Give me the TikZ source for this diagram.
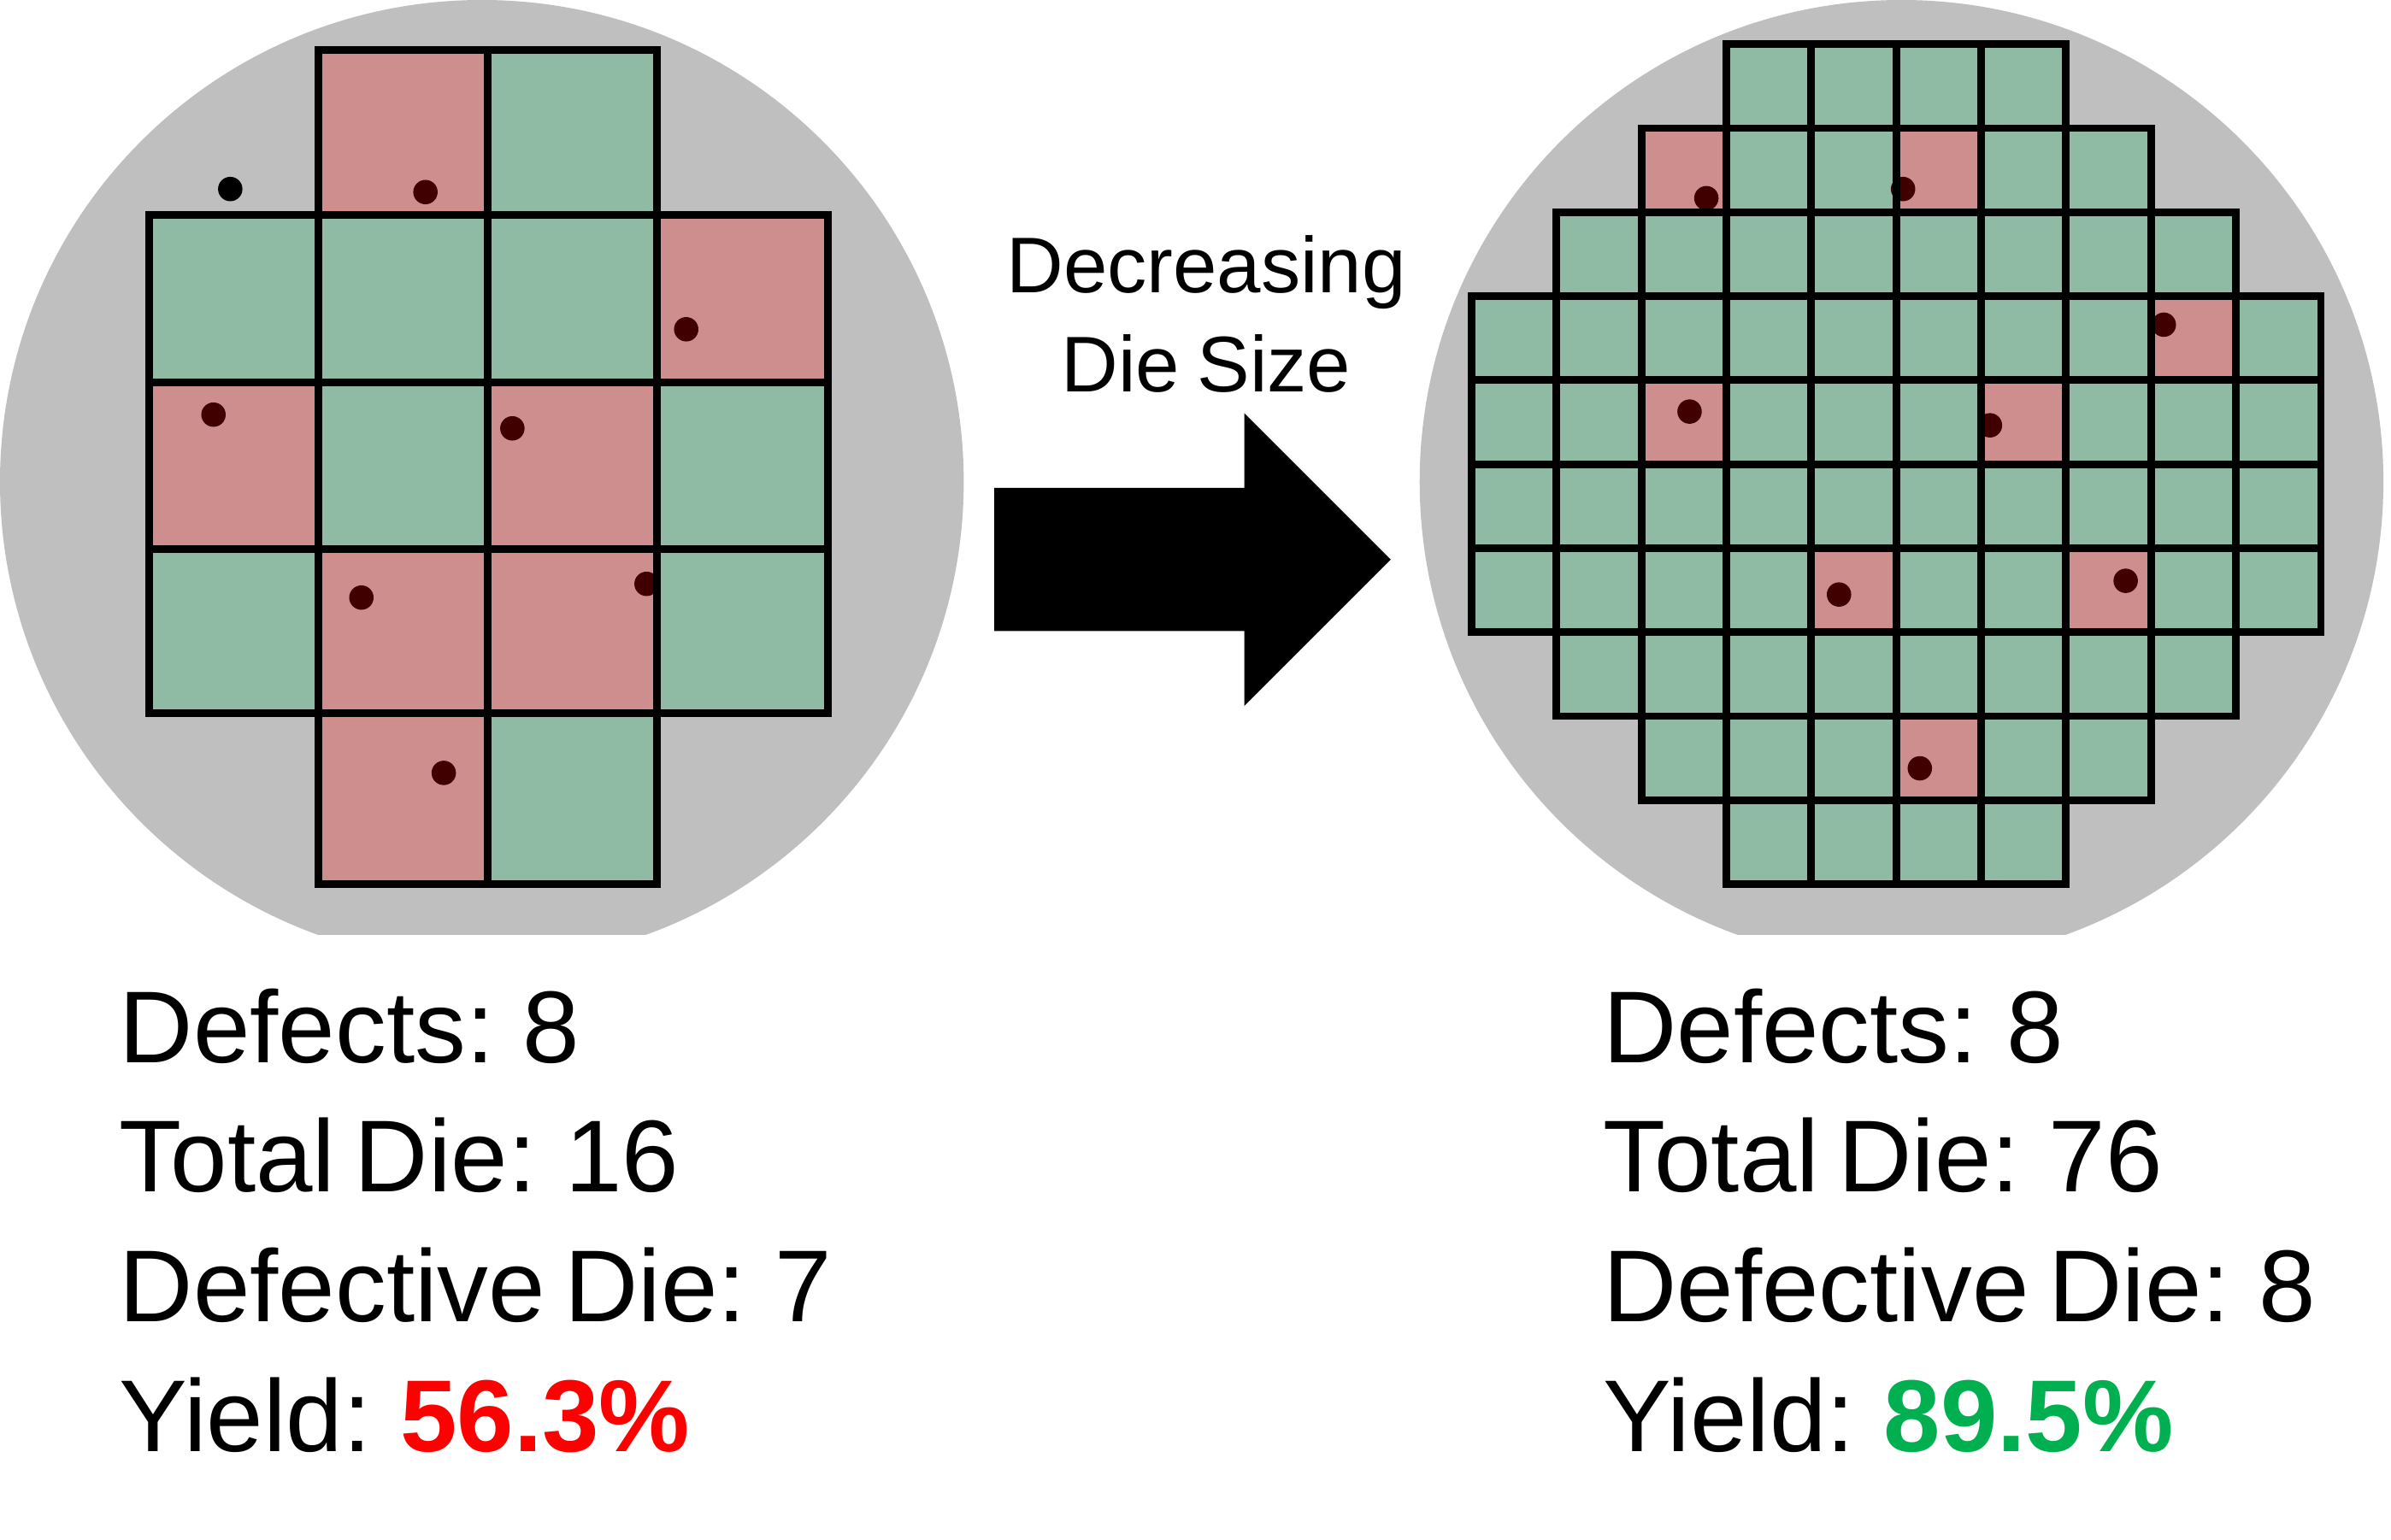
\documentclass[tikz,border=0pt]{standalone}
\usepackage{fontspec}
\setmainfont{Liberation Sans}
\definecolor{wafergray}{RGB}{191,191,191}
\definecolor{goodcell}{RGB}{143,187,164}
\definecolor{badcell}{RGB}{207,142,142}
\definecolor{defectc}{RGB}{64,0,0}
\definecolor{yieldred}{RGB}{255,0,0}
\definecolor{yieldgreen}{RGB}{0,176,80}
\newcommand\stattxt{\fontsize{33.5}{40}\selectfont\spaceskip=0.19em\relax}
\newcommand\arrtxt{\fontsize{25.9}{32}\selectfont\spaceskip=0.22em\relax}
\tikzset{
  cellline/.style={draw=black, line width=2.5pt},
  defect/.style={fill=defectc},
  stat/.style={anchor=base west, inner sep=0pt, font=\stattxt},
  arrlabel/.style={anchor=base, inner sep=0pt, font=\arrtxt},
}
\begin{document}
\begin{tikzpicture}[x=0.5pt, y=-0.5pt]
\useasboundingbox (0,0) rectangle (1568,1010);
\fill[white] (0,0) rectangle (1568,1010);

% ---------- left wafer ----------
\begin{scope}
  \clip (0,0) rectangle (1568,613);
  \fill[wafergray] (316,316) circle[radius=316];
\end{scope}
% cells
\foreach \xa/\ya/\xb/\yb/\cc in {
  209/33/320/141/badcell, 320/33/431/141/goodcell,
  98/141/209/251/goodcell, 209/141/320/251/goodcell, 320/141/431/251/goodcell, 431/141/543/251/badcell,
  98/251/209/360/badcell, 209/251/320/360/goodcell, 320/251/431/360/badcell, 431/251/543/360/goodcell,
  98/360/209/468/goodcell, 209/360/320/468/badcell, 320/360/431/468/badcell, 431/360/543/468/goodcell,
  209/468/320/580/badcell, 320/468/431/580/goodcell}
  { \fill[\cc] (\xa,\ya) rectangle (\xb,\yb); }
% defects
\fill[black] (151,124) circle[radius=8];
\foreach \px/\py in {279/126, 450/216, 140/272, 336/281, 237/392, 424/383, 291/507}
  { \fill[defect] (\px,\py) circle[radius=8]; }
% outlines
\foreach \xa/\ya/\xb/\yb in {
  209/33/320/141, 320/33/431/141,
  98/141/209/251, 209/141/320/251, 320/141/431/251, 431/141/543/251,
  98/251/209/360, 209/251/320/360, 320/251/431/360, 431/251/543/360,
  98/360/209/468, 209/360/320/468, 320/360/431/468, 431/360/543/468,
  209/468/320/580, 320/468/431/580}
  { \draw[cellline] (\xa,\ya) rectangle (\xb,\yb); }

% ---------- right wafer ----------
\begin{scope}
  \clip (0,0) rectangle (1568,613);
  \fill[wafergray] (1247,316) circle[radius=316];
\end{scope}
\foreach \r/\a/\b in {0/3/6, 1/2/7, 2/1/8, 3/0/9, 4/0/9, 5/0/9, 6/0/9, 7/1/8, 8/2/7, 9/3/6}
  { \foreach \c in {\a,...,\b}
    { \fill[goodcell] ({965+55.7*\c},{29+55.1*\r}) rectangle ++(55.7,55.1); } }
\foreach \r/\c in {1/2, 1/5, 3/8, 4/2, 4/6, 6/4, 6/7, 8/5}
  { \fill[badcell] ({965+55.7*\c},{29+55.1*\r}) rectangle ++(55.7,55.1); }
\foreach \px/\py in {1119/130, 1248/124, 1419/213, 1108/270, 1305/279, 1206/390, 1394/381, 1259/504}
  { \fill[defect] (\px,\py) circle[radius=8]; }
\foreach \r/\a/\b in {0/3/6, 1/2/7, 2/1/8, 3/0/9, 4/0/9, 5/0/9, 6/0/9, 7/1/8, 8/2/7, 9/3/6}
  { \foreach \c in {\a,...,\b}
    { \draw[cellline] ({965+55.7*\c},{29+55.1*\r}) rectangle ++(55.7,55.1); } }

% ---------- arrow ----------
\fill[black] (652,320) -- (816,320) -- (816,271) -- (912,367) -- (816,463) -- (816,414) -- (652,414) -- cycle;
\node[arrlabel] (dec) at (791,192) {Decreasing};
\node[arrlabel] (dsz) at (791,257) {Die Size};

% ---------- statistics ----------
\node[stat] (l1) at (78,697) {Defects: 8};
\node[stat] (l2) at (78,782) {Total Die: 16};
\node[stat] (l3) at (78,867) {Defective Die: 7};
\node[stat] (l4) at (78,952) {Yield: \textbf{\textcolor{yieldred}{56.3\%}}};

\node[stat] (r1) at (1051,697) {Defects: 8};
\node[stat] (r2) at (1051,782) {Total Die: 76};
\node[stat] (r3) at (1051,867) {Defective Die: 8};
\node[stat] (r4) at (1051,952) {Yield: \textbf{\textcolor{yieldgreen}{89.5\%}}};
\end{tikzpicture}
\end{document}
